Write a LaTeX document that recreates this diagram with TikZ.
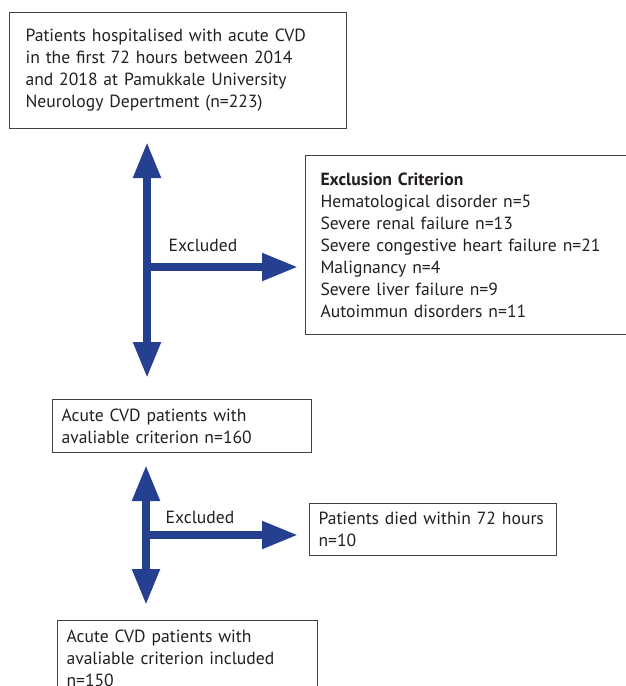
\documentclass[tikz,border=0pt]{standalone}
\usepackage{fontspec}
\setmainfont{PT Sans}
\usetikzlibrary{arrows.meta}
\definecolor{flowblue}{RGB}{38,64,145}
\definecolor{inkgray}{RGB}{35,31,32}
\begin{document}
\begin{tikzpicture}[x=1pt, y=-1pt,
    box/.style={draw=inkgray!85, line width=1.1pt, anchor=north west, align=left,
      text=inkgray, inner ysep=0pt, font=\fontsize{17.6}{22}\selectfont},
    flow/.style={draw=flowblue, line width=8pt,
      -{Triangle[length=36pt, width=26pt]}},
    both/.style={flow, {Triangle[length=36pt, width=26pt]}-{Triangle[length=36pt, width=26pt]}},
    lbl/.style={text=inkgray, font=\fontsize{17.6}{22}\selectfont}]
  \useasboundingbox (0,0) rectangle (626,686);
  \clip (0,0) rectangle (626,686);

  \node[box, inner xsep=16pt, text width=305pt, minimum width=337pt, minimum height=116pt] (hosp) at (9,12)
    {Patients hospitalised with acute CVD\\ in the first 72 hours between 2014\\ and 2018 at Pamukkale University\\ Neurology Depertment (n=223)};
  \node[box, inner xsep=15pt, text width=300pt, minimum width=330pt, minimum height=179pt] (excl) at (305,155)
    {\textbf{Exclusion Criterion}\\ Hematological disorder n=5\\ Severe renal failure n=13\\ Severe congestive heart failure n=21\\ Malignancy n=4\\ Severe liver failure n=9\\ Autoimmun disorders n=11};
  \node[box, inner xsep=9pt, text width=241pt, minimum width=259pt, minimum height=53pt] (avail) at (52,399)
    {Acute CVD patients with\\ avaliable criterion n=160};
  \node[box, inner xsep=9pt, text width=229pt, minimum width=247pt, minimum height=52pt] (died) at (309,503)
    {Patients died within 72 hours\\ n=10};
  \node[box, inner xsep=9pt, text width=242pt, minimum width=260pt, minimum height=76pt] (incl) at (57,620)
    {Acute CVD patients with\\ avaliable criterion included\\ n=150};

  % first exclusion step
  \coordinate (up1) at (147,142);
  \coordinate (down1) at (147,378);
  \coordinate (mid1) at (147,267);
  \draw[both] (up1) -- (down1);
  \draw[flow, shorten >=7pt] (mid1) -- (mid1 -| excl.west);
  \node[lbl] (ex1) at (203,245) {Excluded};

  % second exclusion step
  \coordinate (up2) at (146,465);
  \coordinate (down2) at (146,605);
  \coordinate (mid2) at (146,535);
  \draw[both] (up2) -- (down2);
  \draw[flow, shorten >=11pt] (mid2) -- (mid2 -| died.west);
  \node[lbl] (ex2) at (200,517) {Excluded};
\end{tikzpicture}
\end{document}
